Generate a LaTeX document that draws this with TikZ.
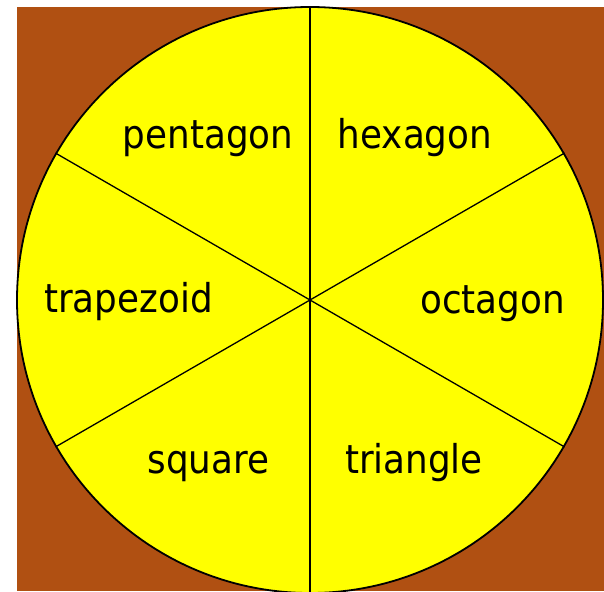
\documentclass[tikz,border=0pt]{standalone}
\usepackage{fontspec}
\setmainfont{DejaVu Sans Condensed}
\definecolor{brownbg}{RGB}{176,80,18}
\definecolor{yel}{RGB}{255,255,0}
\tikzset{
  lbl/.style={anchor=base, inner sep=0pt, font=\fontsize{39.7}{40}\selectfont},
  spoke/.style={draw=black, line width=1.3pt}
}
\begin{document}
\begin{tikzpicture}[x=1pt,y=-1pt]
\useasboundingbox (0,0) rectangle (604,591);
\fill[brownbg] (17,7) rectangle (604,591);
\node[circle, draw=black, fill=yel, line width=1.8pt, minimum size=586pt, inner sep=0pt] (c) at (310,300) {};
\foreach \a in {90,30,-30,-90,-150,150}{
  \draw[spoke] (c.center) -- (c.\a);
}
\node[lbl] (pentagon) at (208,148) {pentagon};
\node[lbl] (hexagon) at (415,148) {hexagon};
\node[lbl] (trapezoid) at (128.5,312) {trapezoid};
\node[lbl] (octagon) at (492.5,313) {octagon};
\node[lbl] (square) at (208.5,473) {square};
\node[lbl] (triangle) at (414,473) {triangle};
\end{tikzpicture}
\end{document}
